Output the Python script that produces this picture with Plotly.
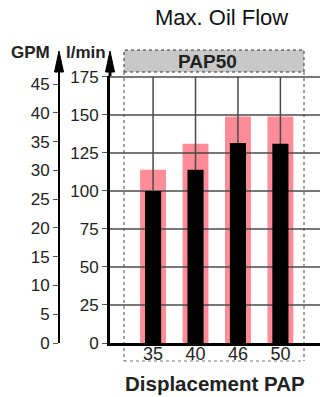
import plotly.graph_objects as go

# ---- data ----
categories = ["35", "40", "46", "50"]
flow_max_lpm = [114, 131, 149, 149]      # pink bars (l/min)
flow_lpm = [100, 114, 131.5, 131]        # black bars (l/min)
lpm_ticks = [0, 25, 50, 75, 100, 125, 150, 175]
gpm_ticks = [0, 5, 10, 15, 20, 25, 30, 35, 40, 45]
LPM_PER_GPM = 3.785
Y_MAX = 175.6

# ---- layout geometry (pixels) ----
W, H = 320, 397
PLOT_LEFT = 110
PLOT_TOP = 76
PLOT_BOTTOM = 343
GPM_X = 59

PINK = "#FF8C96"
GRID = "#4a4a4a"
FONT = "Liberation Sans, Arial, sans-serif"


def px(x):
    return x / W


def py(y):
    return (PLOT_BOTTOM - y) / (PLOT_BOTTOM - PLOT_TOP)


xpos = list(range(len(categories)))

# grid lines drawn above pink bars but below black bars
gx, gy = [], []
for v in lpm_ticks[1:]:
    gx += [-3, len(categories) + 3, None]
    gy += [v, v, None]
for i in xpos:
    gx += [i, i, None]
    gy += [0, lpm_ticks[-1], None]

fig = go.Figure()
fig.add_trace(go.Bar(x=xpos, y=flow_max_lpm, width=0.61, marker=dict(color=PINK, line=dict(width=0)),
                     showlegend=False, hoverinfo="skip", xaxis="x", yaxis="y"))
fig.add_trace(go.Scatter(x=gx, y=gy, mode="lines", line=dict(color=GRID, width=1.5),
                         showlegend=False, hoverinfo="skip", xaxis="x", yaxis="y"))
fig.add_trace(go.Bar(x=xpos, y=flow_lpm, width=0.38, marker=dict(color="black", line=dict(width=0)),
                     showlegend=False, hoverinfo="skip", xaxis="x", yaxis="y2"))
fig.add_trace(go.Scatter(x=[None], y=[None], mode="lines", showlegend=False, hoverinfo="skip",
                         xaxis="x", yaxis="y3"))

shapes = []
# header box
shapes.append(dict(type="rect", xref="paper", yref="paper", x0=px(124), x1=px(304), y0=py(72), y1=py(50),
                   fillcolor="#C8C8C8", line=dict(color="#333", width=1, dash="dot"), layer="above"))
# dotted frame
for xx in (124, 304):
    shapes.append(dict(type="line", xref="paper", yref="paper", x0=px(xx), x1=px(xx), y0=py(72), y1=py(361),
                       line=dict(color="#444", width=1, dash="dot"), layer="below"))
shapes.append(dict(type="line", xref="paper", yref="paper", x0=px(124), x1=px(304), y0=py(361), y1=py(361),
                   line=dict(color="#777", width=1, dash="dot"), layer="below"))
# axis extensions + arrows
for ax_x, lw in ((PLOT_LEFT, 3), (GPM_X, 2)):
    shapes.append(dict(type="line", xref="paper", yref="paper", x0=px(ax_x), x1=px(ax_x), y0=1, y1=py(66),
                       line=dict(color="black", width=lw)))
    path = "M {} {} L {} {} L {} {} Z".format(px(ax_x - 4.5), py(72), px(ax_x), py(51), px(ax_x + 4.5), py(72))
    shapes.append(dict(type="path", xref="paper", yref="paper", path=path, fillcolor="black",
                       line=dict(color="black", width=1)))

annotations = [
    dict(text="Max. Oil Flow", x=px(221), y=py(18), font=dict(size=22, color="#111")),
    dict(text="<b>GPM</b>", x=px(30), y=py(52), font=dict(size=17, color="#222")),
    dict(text="<b>l/min</b>", x=px(86), y=py(52), font=dict(size=17, color="#222")),
    dict(text="<b>PAP50</b>", x=px(207), y=py(61), font=dict(size=19, color="#222")),
    dict(text="<b>Displacement PAP</b>", x=px(214.5), y=py(383), font=dict(size=20.5, color="#222")),
]
for a in annotations:
    a.update(xref="paper", yref="paper", showarrow=False, xanchor="center", yanchor="middle")

fig.update_layout(
    width=W, height=H,
    margin=dict(l=0, r=0, t=PLOT_TOP, b=H - PLOT_BOTTOM, pad=0),
    paper_bgcolor="white", plot_bgcolor="white",
    font=dict(family=FONT, color="#222"),
    barmode="overlay",
    showlegend=False,
    xaxis=dict(domain=[px(PLOT_LEFT), 1], range=[-1.015, 3.933], tickvals=xpos, ticktext=categories,
               showline=True, linewidth=3, linecolor="black", ticks="", showgrid=False, zeroline=False,
               tickfont=dict(size=18, color="#222"), anchor="y", fixedrange=True, ticklabelstandoff=-8),
    yaxis=dict(range=[0, Y_MAX], tickvals=lpm_ticks, showline=True, linewidth=3, linecolor="black",
               ticks="outside", ticklen=5, tickcolor="#555", tickwidth=1, showgrid=False, zeroline=False,
               tickfont=dict(size=17, color="#222"), fixedrange=True),
    yaxis2=dict(overlaying="y", range=[0, Y_MAX], visible=False, fixedrange=True),
    yaxis3=dict(overlaying="y", anchor="free", position=px(GPM_X), side="left",
                range=[0, Y_MAX / LPM_PER_GPM], tickvals=gpm_ticks, showline=True, linewidth=2,
                linecolor="black", ticks="outside", ticklen=5, tickcolor="#555", tickwidth=1,
                showgrid=False, zeroline=False, tickfont=dict(size=17, color="#222"), fixedrange=True),
    shapes=shapes,
    annotations=annotations,
)

fig.write_html("out.html", config={"displayModeBar": False})
